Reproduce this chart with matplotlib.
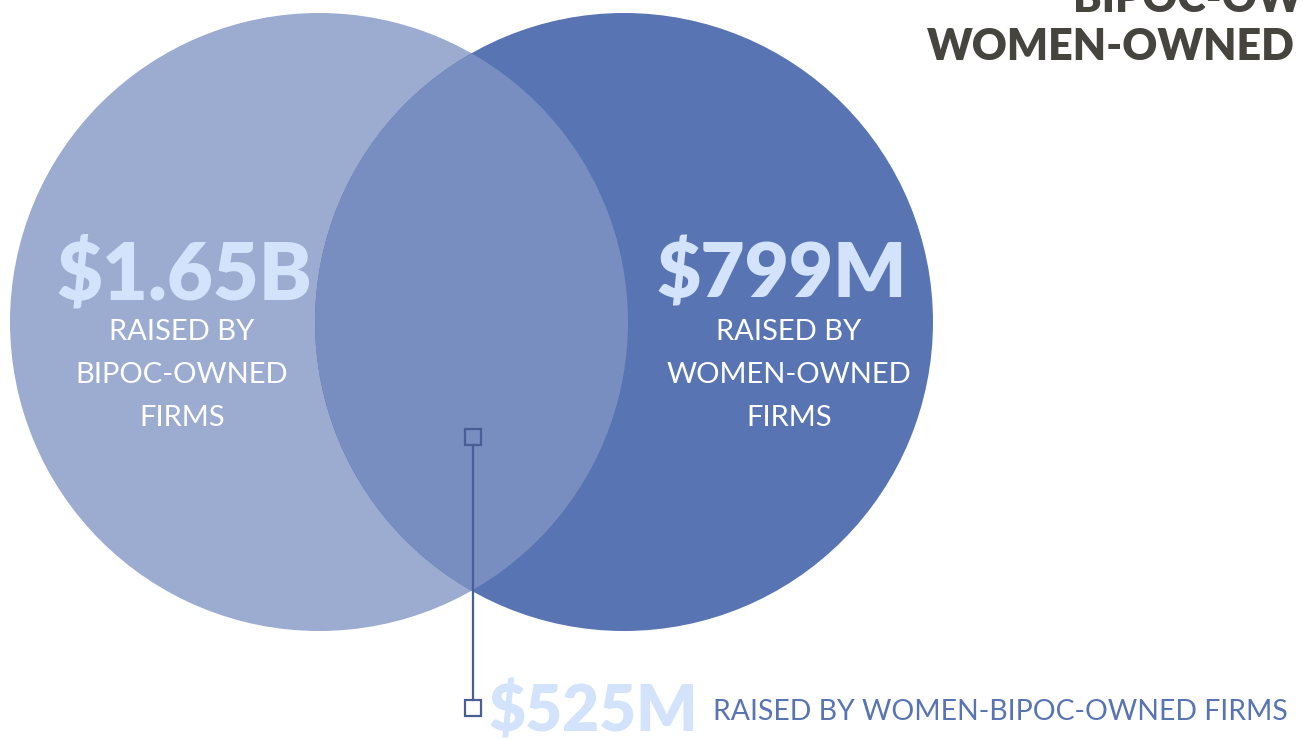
import matplotlib.pyplot as plt
from matplotlib.patches import Circle, Rectangle

# === data ===
amounts = ["$1.65B", "$799M", "$525M"]
captions = ["RAISED BY\nBIPOC-OWNED\nFIRMS", "RAISED BY\nWOMEN-OWNED\nFIRMS",
            "RAISED BY WOMEN-BIPOC-OWNED FIRMS"]
title_lines = ["BIPOC-OWNED &", "WOMEN-OWNED"]

# colours
c_left = "#9BACD0"
c_right = "#5874B2"
c_both = "#788DC0"
c_num = "#D3E3FC"
c_title = "#45443E"
c_line = "#4A5E96"

fig = plt.figure(figsize=(13.03, 7.40), dpi=100)
ax = fig.add_axes([0, 0, 1, 1])
ax.set_xlim(0, 1303)
ax.set_ylim(740, 0)
ax.set_aspect("equal")
ax.axis("off")

# === circles ===
r = 309
left = Circle((319, 322), r, color=c_left, lw=0)
right = Circle((624, 322), r, color=c_right, lw=0)
ax.add_patch(left)
ax.add_patch(right)
lens = Circle((319, 322), r, color=c_both, lw=0)
ax.add_patch(lens)
lens.set_clip_path(right)

# === text ===
bold = dict(family=["Lato", "DejaVu Sans"], weight="heavy")
light = dict(family=["Lato", "DejaVu Sans"], weight="normal")

ax.text(184, 299, amounts[0], color=c_num, fontsize=57, ha="center", va="baseline", **bold)
ax.text(782, 298, amounts[1], color=c_num, fontsize=55, ha="center", va="baseline", **bold)
ax.text(182, 375, captions[0], color="white", fontsize=21, ha="center", va="center",
        linespacing=1.82, **light)
ax.text(789, 375, captions[1], color="white", fontsize=21, ha="center", va="center",
        linespacing=1.82, **light)

ax.text(489, 731, amounts[2], color=c_num, fontsize=46, ha="left", va="baseline", **bold)
ax.text(713, 720, captions[2], color=c_right, fontsize=20.4, ha="left", va="baseline", **light)

# connector
ax.plot([473, 473], [445, 700], color=c_line, lw=1.6)
ax.add_patch(Rectangle((465, 429), 16, 16, fill=False, ec=c_line, lw=1.6))
ax.add_patch(Rectangle((465, 700), 16, 16, fill=False, ec=c_line, lw=1.6))

# title (cut off at top/right like the reference)
ax.text(1073, 12, title_lines[0], color=c_title, fontsize=31, ha="left", va="baseline", **bold)
ax.text(1295, 60, title_lines[1], color=c_title, fontsize=31, ha="right", va="baseline", **bold)

fig.savefig("out.png", dpi=100)
